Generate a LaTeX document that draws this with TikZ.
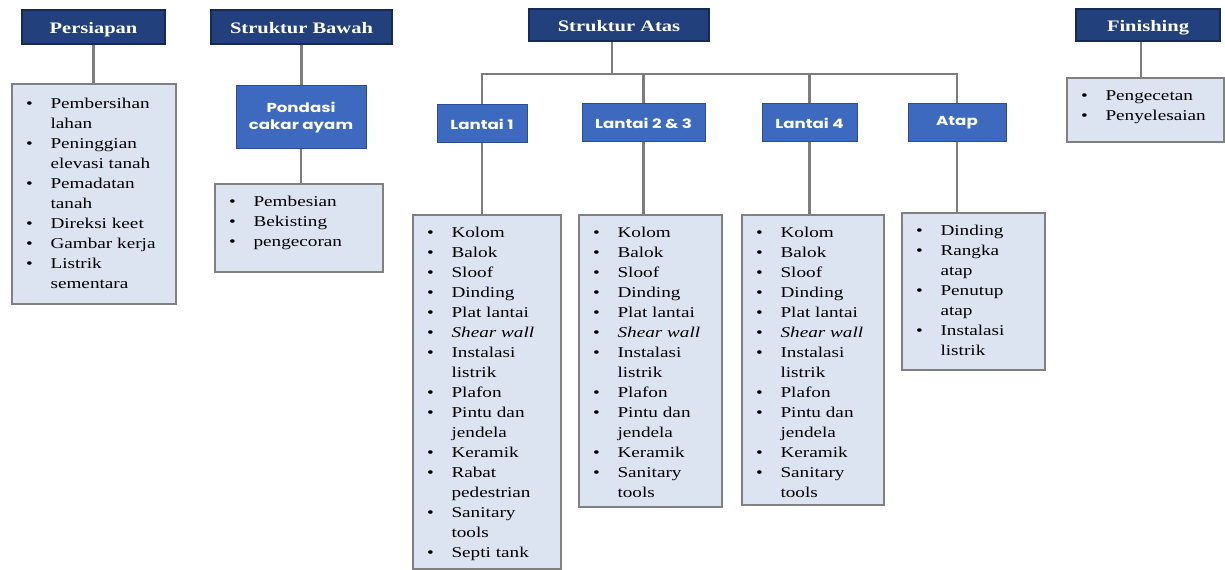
\documentclass[tikz,border=0pt]{standalone}
\usepackage{fontspec}
\setmainfont[FakeStretch=1.28]{Liberation Serif}
\newfontfamily\subfont[FakeStretch=1.28]{Poppins}
\usetikzlibrary{calc}
\definecolor{hdrfill}{RGB}{33,64,124}
\definecolor{hdrdraw}{RGB}{22,42,88}
\definecolor{subfill}{RGB}{61,106,190}
\definecolor{subdraw}{RGB}{40,78,150}
\definecolor{listfill}{RGB}{220,228,242}
\definecolor{listdraw}{RGB}{128,128,128}
\definecolor{conncol}{RGB}{125,125,125}
\newcommand\bl{\makebox[8bp]{\textbullet}}
\tikzset{
  hdrbox/.style={draw=hdrdraw, line width=1.5bp, fill=hdrfill, text=white,
    font=\fontsize{16bp}{19bp}\selectfont\bfseries, inner sep=0pt,
    text height=14bp, text depth=1bp},
  subbox/.style={draw=subdraw, line width=1bp, fill=subfill, text=white, align=center,
    font=\subfont\bfseries\fontsize{13bp}{17bp}\selectfont, inner sep=0pt},
  listbox/.style={draw=listdraw, line width=1.3bp, fill=listfill, inner sep=0pt},
  listtxt/.style={anchor=base west, inner sep=0pt, font=\fontsize{15bp}{20bp}\selectfont},
  conn/.style={draw=conncol, line width=2.6bp}
}
\begin{document}
\begin{tikzpicture}[x=1bp, y=-1bp]
\useasboundingbox[fill=white] (0,0) rectangle (1225,570);

% headers
\node[hdrbox, minimum width=143bp, minimum height=34bp] (pers) at (93.5,27) {Persiapan};
\node[hdrbox, minimum width=181bp, minimum height=34bp] (bawah) at (301.5,27) {Struktur Bawah};
\node[hdrbox, minimum width=180bp, minimum height=32bp] (atas) at (619,25) {Struktur Atas};
\node[hdrbox, minimum width=144bp, minimum height=32bp] (fin) at (1148,25) {Finishing};

% sub boxes
\node[subbox, minimum width=130bp, minimum height=63bp] (pond) at (301,117.5) {Pondasi\\cakar ayam};
\node[subbox, minimum width=90bp, minimum height=38bp] (l1) at (482,124) {Lantai 1};
\node[subbox, minimum width=123bp, minimum height=38bp] (l2) at (643.5,123) {Lantai 2 \& 3};
\node[subbox, minimum width=95bp, minimum height=38bp] (l4) at (809.5,123) {Lantai 4};
\node[subbox, minimum width=98bp, minimum height=38bp] (atap) at (957,123) {Atap};

% list boxes
\node[listbox, minimum width=164bp, minimum height=220bp] (lpers) at (94,194) {};
\node[listbox, minimum width=168bp, minimum height=88bp] (lbawah) at (299,228) {};
\node[listbox, minimum width=157bp, minimum height=64bp] (lfin) at (1145.5,110) {};
\node[listbox, minimum width=148bp, minimum height=354bp] (ll1) at (487,392) {};
\node[listbox, minimum width=143bp, minimum height=292bp] (ll2) at (650.5,361) {};
\node[listbox, minimum width=142bp, minimum height=290bp] (ll4) at (813,360) {};
\node[listbox, minimum width=143bp, minimum height=157bp] (latap) at (973.5,291.5) {};

% list texts
\node[listtxt] (tpers) at ($(lpers.north west)+(14,25)$) {\begin{tabular}[t]{@{}p{25bp}@{}l@{}}
\bl & Pembersihan\\ & lahan\\
\bl & Peninggian\\ & elevasi tanah\\
\bl & Pemadatan\\ & tanah\\
\bl & Direksi keet\\
\bl & Gambar kerja\\
\bl & Listrik\\ & sementara
\end{tabular}};
\node[listtxt] (tbawah) at ($(lbawah.north west)+(14,23)$) {\begin{tabular}[t]{@{}p{25bp}@{}l@{}}
\bl & Pembesian\\
\bl & Bekisting\\
\bl & pengecoran
\end{tabular}};
\node[listtxt] (tfin) at ($(lfin.north west)+(14,23)$) {\begin{tabular}[t]{@{}p{25bp}@{}l@{}}
\bl & Pengecetan\\
\bl & Penyelesaian
\end{tabular}};
\node[listtxt] (tl1) at ($(ll1.north west)+(14,23)$) {\begin{tabular}[t]{@{}p{25bp}@{}l@{}}
\bl & Kolom\\
\bl & Balok\\
\bl & Sloof\\
\bl & Dinding\\
\bl & Plat lantai\\
\bl & \textit{Shear wall}\\
\bl & Instalasi\\ & listrik\\
\bl & Plafon\\
\bl & Pintu dan\\ & jendela\\
\bl & Keramik\\
\bl & Rabat\\ & pedestrian\\
\bl & Sanitary\\ & tools\\
\bl & Septi tank
\end{tabular}};
\node[listtxt] (tl2) at ($(ll2.north west)+(14,23)$) {\begin{tabular}[t]{@{}p{25bp}@{}l@{}}
\bl & Kolom\\
\bl & Balok\\
\bl & Sloof\\
\bl & Dinding\\
\bl & Plat lantai\\
\bl & \textit{Shear wall}\\
\bl & Instalasi\\ & listrik\\
\bl & Plafon\\
\bl & Pintu dan\\ & jendela\\
\bl & Keramik\\
\bl & Sanitary\\ & tools
\end{tabular}};
\node[listtxt] (tl4) at ($(ll4.north west)+(14,23)$) {\begin{tabular}[t]{@{}p{25bp}@{}l@{}}
\bl & Kolom\\
\bl & Balok\\
\bl & Sloof\\
\bl & Dinding\\
\bl & Plat lantai\\
\bl & \textit{Shear wall}\\
\bl & Instalasi\\ & listrik\\
\bl & Plafon\\
\bl & Pintu dan\\ & jendela\\
\bl & Keramik\\
\bl & Sanitary\\ & tools
\end{tabular}};
\node[listtxt] (tatap) at ($(latap.north west)+(14,23)$) {\begin{tabular}[t]{@{}p{25bp}@{}l@{}}
\bl & Dinding\\
\bl & Rangka\\ & atap\\
\bl & Penutup\\ & atap\\
\bl & Instalasi\\ & listrik
\end{tabular}};

% connectors
\coordinate (bus) at (612,74);
\coordinate (finx) at (1141,0);
\draw[conn] (pers.south) -- (pers.south |- lpers.north);
\draw[conn] (bawah.south) -- (bawah.south |- pond.north);
\draw[conn] (pond.south) -- (pond.south |- lbawah.north);
\draw[conn] (atas.south -| bus) -- (bus);
\draw[conn] (l1.north) -- (l1.north |- bus) -- (atap.north |- bus) -- (atap.north);
\draw[conn] (l2.north) -- (l2.north |- bus);
\draw[conn] (l4.north) -- (l4.north |- bus);
\draw[conn] (fin.south -| finx) -- (lfin.north -| finx);
\draw[conn] (l1.south) -- (l1.south |- ll1.north);
\draw[conn] (l2.south) -- (l2.south |- ll2.north);
\draw[conn] (l4.south) -- (l4.south |- ll4.north);
\draw[conn] (atap.south) -- (atap.south |- latap.north);
\end{tikzpicture}
\end{document}
